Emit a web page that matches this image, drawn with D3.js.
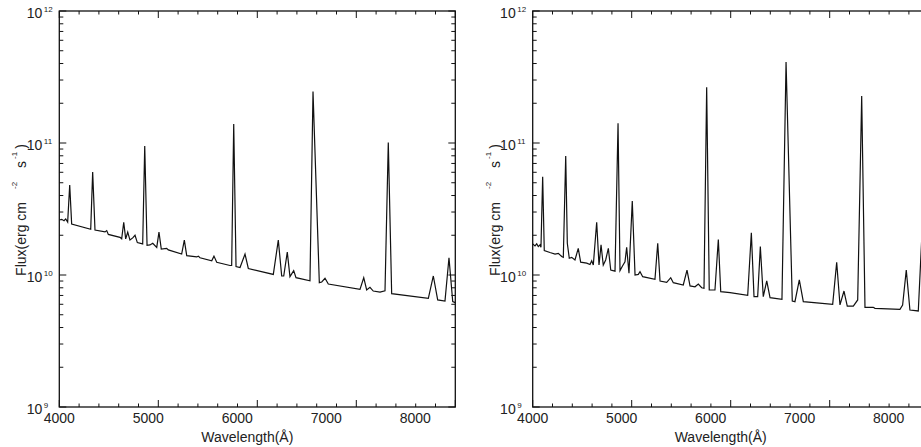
<!DOCTYPE html>
<html>
<head>
<meta charset="utf-8">
<script src="https://cdn.jsdelivr.net/npm/d3@7"></script>
<style>
  body { margin: 0; background: #fff; }
  text { font-family: "Liberation Sans", Arial, sans-serif; fill: #222; }
</style>
</head>
<body>
<svg id="chart" width="921" height="447"></svg>
<script>
// axis ranges and labels
const xDomain = [4000, 8450];
const yDomain = [1e9, 1e12];
const xTickLabels = [4000, 5000, 6000, 7000, 8000];
const yDecades = [9, 10, 11, 12];

// left panel spectrum
const wavelengthA = [4000, 4027, 4053, 4072, 4094, 4117, 4139, 4353, 4375, 4401,
  4514, 4533, 4551, 4682, 4701, 4724, 4746, 4769, 4794, 4825,
  4851, 4877, 4937, 4960, 4986, 5019, 5050, 5095, 5120, 5146,
  5207, 5225, 5375, 5405, 5432, 5544, 5562, 5581, 5713, 5738,
  5769, 5918, 5937, 5960, 5986, 6031, 6087, 6124, 6405, 6461,
  6499, 6522, 6562, 6592, 6634, 6660, 6817, 6851, 6922, 6949,
  6986, 7023, 7379, 7421, 7454, 7491, 7528, 7604, 7660, 7697,
  7735, 8147, 8203, 8252, 8334, 8379, 8421, 8450];
const fluxA = [2.61e10, 2.64e10, 2.58e10, 2.66e10, 2.52e10, 4.81e10, 2.43e10, 2.22e10, 6.03e10, 2.19e10,
  2.12e10, 2.17e10, 2.03e10, 1.93e10, 1.88e10, 2.51e10, 1.88e10, 2.11e10, 1.84e10, 1.91e10,
  2.00e10, 1.76e10, 1.72e10, 9.49e10, 1.68e10, 1.69e10, 1.74e10, 1.62e10, 2.11e10, 1.57e10,
  1.59e10, 1.55e10, 1.44e10, 1.84e10, 1.40e10, 1.37e10, 1.39e10, 1.35e10, 1.28e10, 1.39e10,
  1.25e10, 1.18e10, 1.18e10, 1.39e11, 1.16e10, 1.14e10, 1.44e10, 1.12e10, 1.01e10, 1.84e10,
  9.83e9, 9.83e9, 1.49e10, 9.71e9, 1.08e10, 9.54e9, 9.05e9, 2.45e11, 8.75e9, 8.85e9,
  9.44e9, 8.55e9, 7.79e9, 9.54e9, 7.70e9, 8.07e9, 7.56e9, 7.43e9, 7.60e9, 1.01e11,
  7.22e9, 6.66e9, 9.83e9, 6.47e9, 6.35e9, 1.35e10, 6.28e9, 6.17e9];

// right panel spectrum
const wavelengthB = [4000, 4026, 4045, 4063, 4082, 4093, 4112, 4130, 4194, 4251,
  4288, 4326, 4344, 4371, 4389, 4411, 4438, 4475, 4512, 4539,
  4607, 4644, 4663, 4681, 4719, 4745, 4768, 4793, 4820, 4850,
  4877, 4925, 4959, 4981, 5009, 5037, 5056, 5082, 5119, 5150,
  5187, 5206, 5236, 5374, 5405, 5431, 5506, 5551, 5580, 5692,
  5734, 5768, 5824, 5861, 5899, 5925, 5955, 5984, 6048, 6086,
  6113, 6218, 6416, 6457, 6487, 6528, 6558, 6591, 6630, 6667,
  6801, 6847, 6917, 6947, 6996, 7041, 7371, 7416, 7453, 7498,
  7535, 7603, 7652, 7697, 7734, 7827, 7846, 8127, 8157, 8198,
  8239, 8333, 8379, 8421, 8450];
const fluxB = [1.72e10, 1.66e10, 1.72e10, 1.64e10, 1.69e10, 1.62e10, 5.55e10, 1.53e10, 1.48e10, 1.44e10,
  1.46e10, 1.38e10, 1.36e10, 7.97e10, 1.74e10, 1.34e10, 1.36e10, 1.30e10, 1.59e10, 1.25e10,
  1.23e10, 1.20e10, 1.28e10, 1.19e10, 2.51e10, 1.19e10, 1.69e10, 1.19e10, 1.30e10, 1.59e10,
  1.09e10, 1.07e10, 1.41e11, 1.08e10, 1.17e10, 1.26e10, 1.62e10, 1.03e10, 3.64e10, 1.00e10,
  1.01e10, 1.06e10, 9.71e9, 9.28e9, 1.74e10, 9.01e9, 8.80e9, 9.54e9, 8.75e9, 8.40e9,
  1.09e10, 8.26e9, 8.14e9, 8.55e9, 8.01e9, 7.93e9, 2.64e11, 7.70e9, 7.70e9, 1.86e10,
  7.47e9, 7.35e9, 7.02e9, 2.09e10, 6.85e9, 6.85e9, 1.64e10, 6.85e9, 9.01e9, 6.73e9,
  6.55e9, 4.11e11, 6.35e9, 6.28e9, 9.17e9, 6.28e9, 6.00e9, 1.25e10, 5.93e9, 7.56e9,
  5.82e9, 5.82e9, 6.47e9, 2.27e11, 5.69e9, 5.69e9, 5.59e9, 5.50e9, 5.93e9, 1.09e10,
  5.43e9, 5.34e9, 2.4e10, 5.3e9, 5.2e9];

const svg = d3.select('#chart');
const plotSize = 396, plotTop = 11;

function drawPanel(left, wl, flux){
    const x = d3.scaleLinear().domain(xDomain).range([left, left + plotSize]);
    const y = d3.scaleLog().domain(yDomain).range([plotTop + plotSize, plotTop]);
    const g = svg.append('g');
    const bottom = y(yDomain[0]), topY = y(yDomain[1]);

    // spectrum
    const line = d3.line().x((d, i) => x(wl[i])).y(d => y(d));
    g.append('path').datum(flux).attr('d', line)
        .style('fill', 'none').style('stroke', '#111').style('stroke-width', '1.2px')
        .style('stroke-linejoin', 'miter');

    // x ticks: 4 major intervals, 5 minor each (bottom + top)
    const xt = d3.range(21).map(k => xDomain[0] + k * (xDomain[1] - xDomain[0]) / 20);
    xt.forEach((v, k) => {
        const len = k % 5 === 0 ? 7 : 3.5;
        g.append('line').attr('x1', x(v)).attr('x2', x(v)).attr('y1', bottom).attr('y2', bottom - len)
            .style('stroke', '#111').style('stroke-width', '1px');
        g.append('line').attr('x1', x(v)).attr('x2', x(v)).attr('y1', topY).attr('y2', topY + len)
            .style('stroke', '#111').style('stroke-width', '1px');
    });

    // y ticks (left + right)
    y.ticks().forEach(v => {
        const major = Math.abs(Math.log10(v) - Math.round(Math.log10(v))) < 1e-9;
        const len = major ? 7 : 4;
        g.append('line').attr('x1', x(xDomain[0])).attr('x2', x(xDomain[0]) + len).attr('y1', y(v)).attr('y2', y(v))
            .style('stroke', '#111').style('stroke-width', '1px');
        g.append('line').attr('x1', x(xDomain[1])).attr('x2', x(xDomain[1]) - len).attr('y1', y(v)).attr('y2', y(v))
            .style('stroke', '#111').style('stroke-width', '1px');
    });

    // frame
    g.append('rect').attr('x', x(xDomain[0])).attr('y', topY)
        .attr('width', x(xDomain[1]) - x(xDomain[0])).attr('height', bottom - topY)
        .style('fill', 'none').style('stroke', '#111').style('stroke-width', '1.3px');

    // x tick labels
    xTickLabels.forEach(v => {
        g.append('text').attr('x', x(v)).attr('y', 423).attr('text-anchor', 'middle')
            .style('font-size', '14px').text(v);
    });
    g.append('text').attr('x', left + 188).attr('y', 442).attr('text-anchor', 'middle')
        .style('font-size', '14px').text('Wavelength(Å)');

    // y tick labels 10^n
    yDecades.forEach(n => {
        const v = Math.pow(10, n);
        g.append('text').attr('x', left - 17).attr('y', y(v) + 7).attr('text-anchor', 'end')
            .style('font-size', '14px').text('10');
        g.append('text').attr('x', left - 15.5).attr('y', y(v) + 1).attr('text-anchor', 'start')
            .style('font-size', '8px').text(n);
    });

    // y axis title
    const t = g.append('text').attr('text-anchor', 'middle')
        .attr('transform', 'translate(' + (left - 33) + ',' + (plotTop + plotSize / 2 + 1) + ') rotate(-90)')
        .style('font-size', '14px');
    t.append('tspan').text('Flux(erg cm');
    t.append('tspan').attr('dx', 13).attr('dy', -9).style('font-size', '8px').text('-2');
    t.append('tspan').attr('dx', 14).attr('dy', 9).text('s');
    t.append('tspan').attr('dx', 2).attr('dy', -9).style('font-size', '8px').text('-1');
    t.append('tspan').attr('dx', 3).attr('dy', 9).text(')');
}

drawPanel(59.3, wavelengthA, fluxA);
drawPanel(532.7, wavelengthB, fluxB);
</script>
</body>
</html>
